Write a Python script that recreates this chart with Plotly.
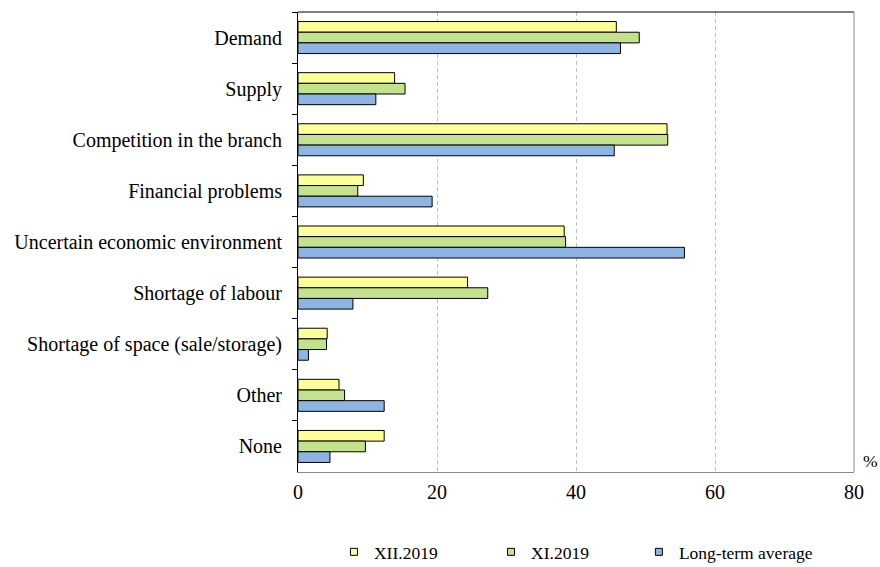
import plotly.graph_objects as go

categories = ["Demand", "Supply", "Competition in the branch", "Financial problems",
              "Uncertain economic environment", "Shortage of labour",
              "Shortage of space (sale/storage)", "Other", "None"]
xii_2019 = [45.8, 13.9, 53.1, 9.4, 38.3, 24.4, 4.2, 5.9, 12.4]
xi_2019 = [49.1, 15.4, 53.2, 8.6, 38.5, 27.3, 4.1, 6.7, 9.7]
long_term = [46.4, 11.2, 45.5, 19.3, 55.6, 7.9, 1.5, 12.4, 4.6]
series_names = ["XII.2019", "XI.2019", "Long-term average"]
colors = ["#FFFF99", "#C4E28E", "#8EB4E3"]
x_ticks = [0, 20, 40, 60, 80]

FONT = "Liberation Serif, Times New Roman, serif"
legend_ids = ["legend", "legend2", "legend3"]
legend_x = [0.3795, 0.558, 0.726]

fig = go.Figure()
for name, vals, col, lid in zip(series_names, [xii_2019, xi_2019, long_term], colors, legend_ids):
    fig.add_trace(go.Bar(
        y=categories, x=vals, name=name, orientation="h", showlegend=False,
        legendgroup=name,
        marker=dict(color=col, line=dict(color="#000000", width=1)),
    ))
    # legend-only marker (small square like the original)
    fig.add_trace(go.Scatter(
        x=[None], y=[None], mode="markers", name=name, legendgroup=name,
        legend=lid, showlegend=True,
        marker=dict(symbol="square", size=7, color=col, line=dict(color="#000000", width=1)),
    ))

legend_common = dict(orientation="h", xref="container", yref="container",
                     xanchor="left", yanchor="middle", y=0.0265,
                     font=dict(family=FONT, size=17.5, color="#000000"),
                     bgcolor="rgba(0,0,0,0)", borderwidth=0)

fig.update_layout(
    width=880, height=567,
    margin=dict(l=298, r=26, t=12, b=95),
    paper_bgcolor="white", plot_bgcolor="white",
    barmode="group", bargap=0.374, bargroupgap=0,
    font=dict(family=FONT, size=20, color="#000000"),
    showlegend=True,
    legend=dict(x=legend_x[0], **legend_common),
    legend2=dict(x=legend_x[1], **legend_common),
    legend3=dict(x=legend_x[2], **legend_common),
    xaxis=dict(range=[0, 80], tickvals=x_ticks, ticktext=[str(v) for v in x_ticks],
               showgrid=True, gridcolor="#C0C0C0", griddash="4px,3px", gridwidth=1,
               showline=True, linecolor="#888888", linewidth=1,
               ticks="", zeroline=False, tickfont=dict(size=20), ticklabelstandoff=2),
    yaxis=dict(autorange="reversed", showline=True, linecolor="#000000", linewidth=1,
               ticks="outside", tickson="boundaries", ticklen=5, tickcolor="#000000",
               showgrid=False, tickfont=dict(size=20), ticklabelstandoff=11),
    shapes=[
        dict(type="line", xref="paper", yref="paper", x0=0, x1=1, y0=1, y1=1,
             line=dict(color="#000000", width=1)),
        dict(type="line", xref="paper", yref="paper", x0=1, x1=1, y0=0, y1=1,
             line=dict(color="#888888", width=1)),
    ],
    annotations=[dict(text="%", xref="paper", yref="paper", x=1.013, y=0.025,
                      xanchor="left", yanchor="middle", showarrow=False,
                      font=dict(size=17.5))],
)

fig.write_html("out.html")
